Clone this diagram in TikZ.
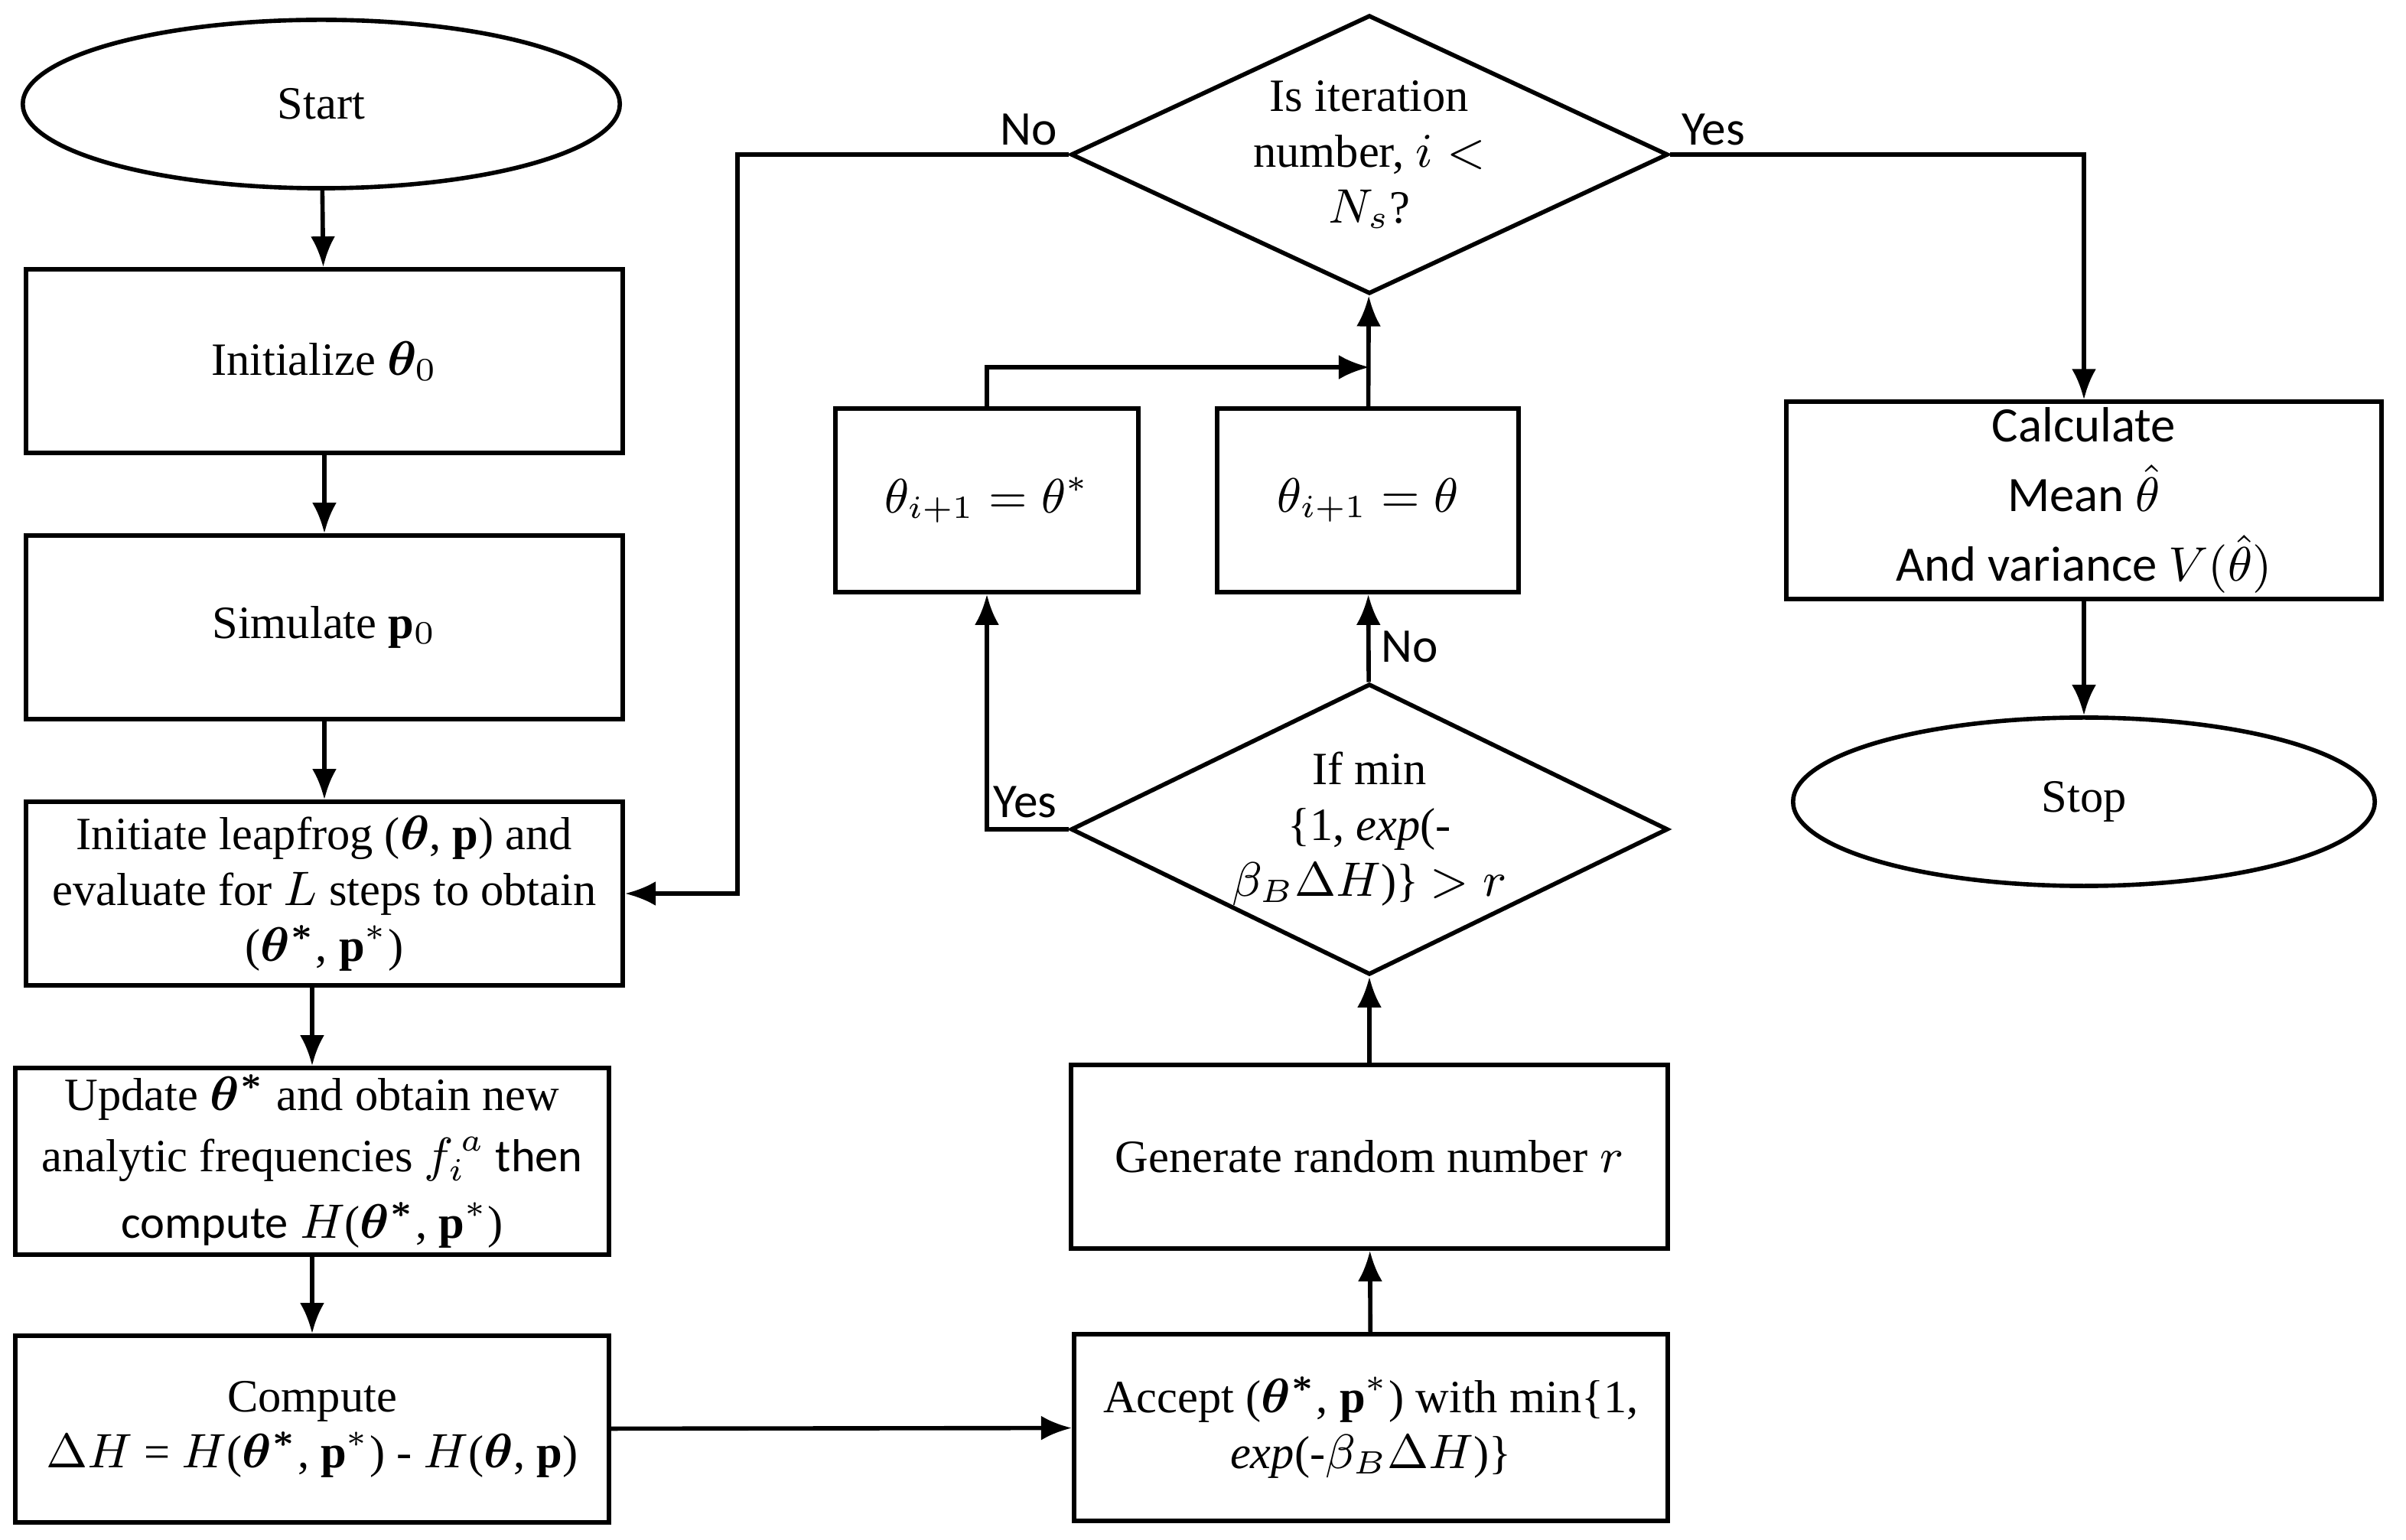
\documentclass[tikz,border=0pt]{standalone}
\usepackage{amsmath}
\usepackage{bm}
\usepackage{fontspec}
\setmainfont{Liberation Serif}
\newfontfamily\sansfnt{Carlito}
\usetikzlibrary{shapes.geometric,arrows.meta}
\tikzset{
	box/.style={draw,thick,minimum width=3.9cm,minimum height=1.2cm,align=center,inner sep=1pt},
	oval/.style={draw,thick,ellipse,minimum width=3.9cm,minimum height=1.1cm},
	dia/.style={draw,thick,diamond,aspect=2.05,minimum width=3.9cm,minimum height=1.9cm,align=center,inner sep=0pt},
	arr/.style={-{Latex[length=2mm,width=1.6mm]},thick},
	lbl/.style={font=\sansfnt\fontsize{9}{10}\selectfont,inner sep=2pt}
}
\begin{document}
\begin{tikzpicture}[x=0.01cm,y=-0.01cm,font=\fontsize{8.6}{10.4}\selectfont]
	\useasboundingbox (0,0) rectangle (1572.5,1006.5);
	\node[oval] (start) at (210,68) {Start};
	\node[box] (init) at (212,236) {Initialize $\bm{\theta}_0$};
	\node[box] (sim) at (212,410) {Simulate $\mathbf{p}_0$};
	\node[box] (leap) at (212,584) {Initiate leapfrog ($\bm{\theta}$, $\mathbf{p}$) and\\ evaluate for $L$ steps to obtain\\ ($\bm{\theta^*}$, $\mathbf{p^*}$)};
	\node[box,minimum width=3.88cm,minimum height=1.22cm] (upd) at (204,759) {Update $\bm{\theta^*}$ and obtain new\\[1pt] analytic frequencies {\sansfnt $f_i^{\,a}$ then}\\[2pt] {\sansfnt compute} $H$($\bm{\theta^*}$, $\mathbf{p^*}$)};
	\node[box,minimum width=3.88cm,minimum height=1.22cm] (comp) at (204,934) {Compute\\ $\Delta H$ = $H$($\bm{\theta^*}$, $\mathbf{p^*}$) - $H$($\bm{\theta}$, $\mathbf{p}$)};
	\node[box,minimum width=3.88cm,minimum height=1.22cm] (acc) at (896,933) {Accept ($\bm{\theta^*}$, $\mathbf{p^*}$) with min\{1,\\ \textit{exp}(-$\beta_B\Delta H$)\}};
	\node[box] (gen) at (895,756) {Generate random number $r$};
	\node[dia] (ifmin) at (895,542) {If min\\ \{1, \textit{exp}(-\\ $\beta_B\Delta H$)\} $>r$};
	\node[box,minimum width=1.97cm] (keep) at (894,327) {$\theta_{i+1} = \theta$};
	\node[box,minimum width=1.98cm] (take) at (645,327) {$\theta_{i+1} = \theta^*$};
	\node[dia,minimum height=1.82cm] (iter) at (895,101) {Is iteration\\ number, $i<$\\ $N_s$?};
	\node[box,minimum width=3.89cm,font=\sansfnt\fontsize{9.2}{13}\selectfont] (calc) at (1362,327) {Calculate\\ Mean $\hat{\theta}$\\ And variance $V(\hat{\theta})$};
	\node[oval,minimum width=3.8cm] (stop) at (1362,524) {Stop};
	\coordinate (join) at (895,240);
	\draw[arr] (start) -- (init);
	\draw[arr] (init) -- (sim);
	\draw[arr] (sim) -- (leap);
	\draw[arr] (204,644) -- (upd);
	\draw[arr] (upd) -- (comp);
	\draw[arr] (comp) -- (acc);
	\draw[arr] (acc) -- (gen);
	\draw[arr] (gen) -- (ifmin);
	\draw[arr] (ifmin) -- node[lbl,right,pos=0.4] {No} (keep);
	\draw[arr] (ifmin.west) -| (take.south);
	\node[lbl,above left] at (ifmin.west) {Yes};
	\draw[arr] (take.north) |- (join);
	\draw[arr] (keep) -- (iter);
	\draw[arr] (iter.west) -- (482,101) |- (leap.east);
	\node[lbl,above left,yshift=-0.5pt] at (iter.west) {No};
	\draw[arr] (iter.east) -| (calc.north);
	\node[lbl,above right,yshift=-0.5pt] at (iter.east) {Yes};
	\draw[arr] (calc) -- (stop);
\end{tikzpicture}
\end{document}
